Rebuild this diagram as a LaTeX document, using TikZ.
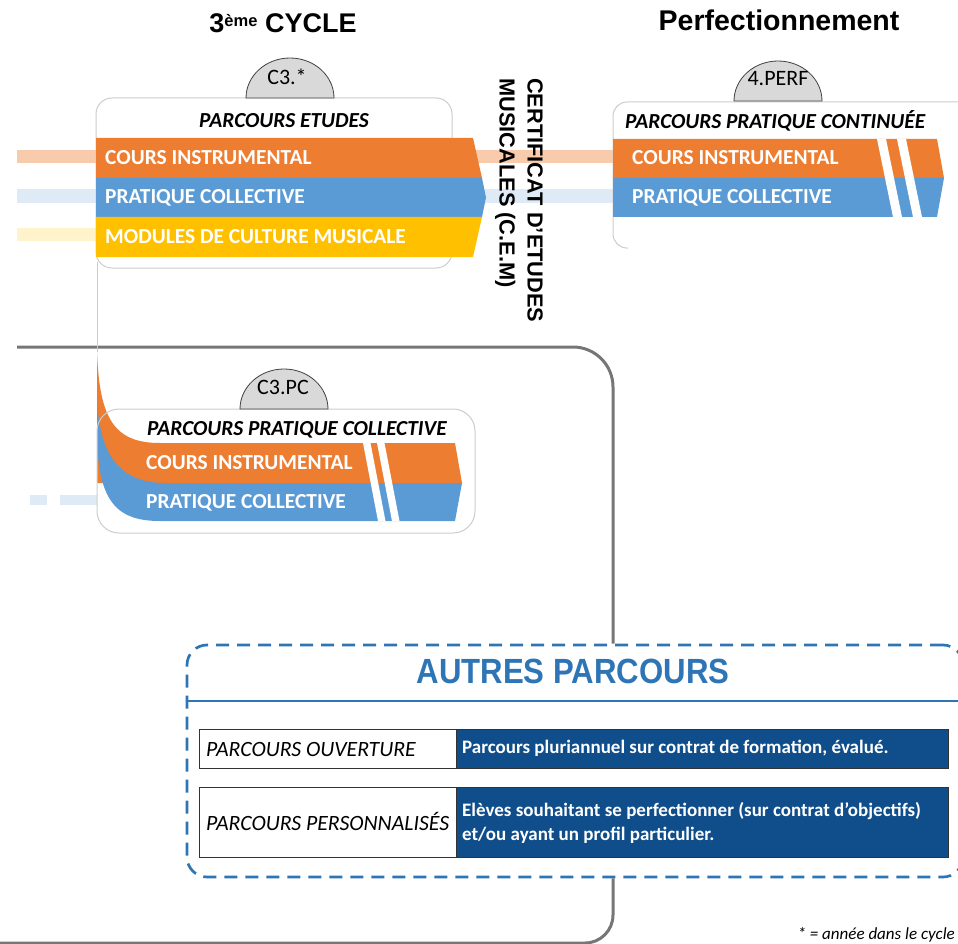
\documentclass[tikz,border=0pt]{standalone}
\usepackage{fontspec}
\usepackage{graphicx}
\setmainfont{Carlito}
\newfontfamily\arial{Liberation Sans}
\definecolor{corange}{RGB}{237,125,49}
\definecolor{cbleu}{RGB}{91,155,213}
\definecolor{cjaune}{RGB}{255,192,0}
\definecolor{cmarine}{RGB}{16,78,139}
\definecolor{cdash}{RGB}{46,117,182}
\definecolor{ctrait}{RGB}{118,118,118}
\begin{document}
\begin{tikzpicture}[x=1pt,y=-1pt,
  bande/.style={anchor=base west,inner sep=0,text=white,font=\bfseries\fontsize{21.4}{24}\selectfont},
  titre/.style={anchor=base west,inner sep=0,font=\bfseries\itshape\fontsize{21.4}{24}\selectfont},
  cadre/.style={draw=black!20,line width=1pt,rounded corners=#1},
  demi/.style={fill=black!15,draw=black!75,line width=0.8pt},
  ligne/.style={draw=ctrait,line width=3pt},
  petit/.style={anchor=base,inner sep=0,font=\fontsize{22}{24}\selectfont},
  ligneb/.style={anchor=base west,inner sep=0,text=white,font=\bfseries\fontsize{19}{24}\selectfont}]
\useasboundingbox (0,0) rectangle (958,944);
\clip (0,0) rectangle (958,944);
\def\demi#1#2{\draw[demi] ({#1-44},#2) arc[start angle=180,end angle=0,x radius=44pt,y radius=40pt] -- cycle;}
\def\coupe#1#2#3#4{\fill[white] (#1,#2) -- ({#1+#4},#2) -- ({#1+#4+#3},{#2+78}) -- ({#1+#3},{#2+78}) -- cycle;}
\fill[corange!40] (17,150) rectangle (96,163);
\fill[cbleu!20] (17,189) rectangle (96,203);
\fill[cjaune!20] (17,228) rectangle (96,241);
\fill[corange!40] (470,150) rectangle (613,163);
\fill[cbleu!20] (484,189) rectangle (613,203);
\foreach \a/\b in {30/47,60/97}
	\fill[cbleu!20] (\a,495) rectangle (\b,505);
\node[draw=cdash,line width=2.7pt,dash pattern=on 13pt off 8pt,rounded corners=20pt,
	minimum width=776pt,minimum height=232pt,inner sep=0] (autres) at (575,761) {};
\coordinate (g0) at (17,347);
\coordinate (g1) at (613,347);
\draw[ligne,rounded corners=40pt] (g0) -| (autres.north -| g1);
\draw[ligne,rounded corners=28pt] (autres.south -| g1) |- (0,943);
\draw[draw=cdash,line width=2pt] (187,701) -- (958,701);
\draw[cadre=16pt] (96,98) rectangle (452,268);
\draw[cadre=14pt] (628,248) -- (613,248) -- (613,102) -- (970,102);
\draw[black!20,line width=1pt] (97,262) -- (97,352);
\fill[corange] (96,138) -- (473,138) -- (482,178) -- (96,178) -- cycle;
\fill[cbleu] (96,178) -- (482,178) -- (486,197.5) -- (482,217) -- (96,217) -- cycle;
\fill[cjaune] (96,217) -- (482,217) -- (473,257) -- (96,257) -- cycle;
\fill[corange] (613,139) -- (937,139) -- (944,178) -- (613,178) -- cycle;
\fill[cbleu] (613,178) -- (944,178) -- (937,217) -- (613,217) -- cycle;
\coupe{877}{139}{16}{9}
\coupe{897}{139}{16}{9}
\fill[corange] (97,350) .. controls (99,420) and (115,443) .. (160,443) -- (455,443) -- (462,483) -- (97,483) -- cycle;
\fill[cbleu] (97,395) .. controls (98,455) and (120,483) .. (165,483) -- (462,483) -- (455,521) -- (160,521)
	.. controls (115,521) and (97,500) .. (97,430) -- cycle;
\coupe{363}{443}{15}{7.5}
\coupe{377}{443}{15}{7.5}
\draw[cadre=22pt] (97,409) rectangle (475,533);
\demi{290}{98}
\demi{284}{409}
\demi{778}{101}
\node[petit] (c3) at (287,85) {C3.*};
\node[petit] (c3pc) at (283,394.5) {C3.PC};
\node[petit] (perf) at (778,85.5) {4.PERF};
\node[anchor=base,inner sep=0,font=\arial\bfseries\fontsize{27}{30}\selectfont] (cycle) at (283,33)
	{3\raisebox{6pt}{\fontsize{16.5}{16}\selectfont ème} CYCLE};
\node[anchor=base,inner sep=0,font=\arial\bfseries\fontsize{28.5}{30}\selectfont] (perfect) at (779,31) {Perfectionnement};
\node[titre,anchor=base] (etudes) at (284,128) {PARCOURS ETUDES};
\node[bande] (ci1) at (105,164.5) {COURS INSTRUMENTAL};
\node[bande] (pc1) at (105,204) {PRATIQUE COLLECTIVE};
\node[bande] (mcm) at (105,243.5) {MODULES DE CULTURE MUSICALE};
\node[titre] (contin) at (625,128.5) {PARCOURS PRATIQUE CONTINUÉE};
\node[bande] (ci2) at (632,165) {COURS INSTRUMENTAL};
\node[bande] (pc2) at (632,204) {PRATIQUE COLLECTIVE};
\node[titre] (pratc) at (147,435.5) {PARCOURS PRATIQUE COLLECTIVE};
\node[bande] (ci3) at (146,469.5) {COURS INSTRUMENTAL};
\node[bande] (pc3) at (146,508.5) {PRATIQUE COLLECTIVE};
\node[rotate=-90,anchor=north west,inner sep=0,align=left,font=\arial\bfseries\fontsize{21.8}{28}\selectfont] (cem)
	at (543,78) {CERTIFICAT D’ETUDES\\MUSICALES (C.E.M)};
\node[anchor=base,inner sep=0,text=cdash,font=\arial\bfseries\fontsize{35}{40}\selectfont] (titaut) at (573,683)
	{\scalebox{.89}[1]{AUTRES PARCOURS}};
\foreach \ya/\yb in {729/768,787/857}{
	\draw[black!80,line width=0.8pt] (199,\ya) rectangle (456,\yb);
	\filldraw[fill=cmarine,draw=black!80,line width=0.8pt] (456,\ya) rectangle (948,\yb);
}
\node[anchor=base west,inner sep=0,font=\itshape\fontsize{21.8}{24}\selectfont] (ouv) at (206,756) {PARCOURS OUVERTURE};
\node[anchor=base west,inner sep=0,font=\itshape\fontsize{21.8}{24}\selectfont] (perso) at (206,830) {PARCOURS PERSONNALISÉS};
\node[ligneb] (ouvd) at (462,753) {Parcours pluriannuel sur contrat de formation, évalué.};
\node[ligneb] (persoa) at (462,816) {Elèves souhaitant se perfectionner (sur contrat d’objectifs)};
\node[ligneb] (persob) at (462,840) {et/ou ayant un profil particulier.};
\node[anchor=base east,inner sep=0,font=\itshape\fontsize{17}{18}\selectfont] (note) at (955,939) {* = année dans le cycle};
\end{tikzpicture}
\end{document}
